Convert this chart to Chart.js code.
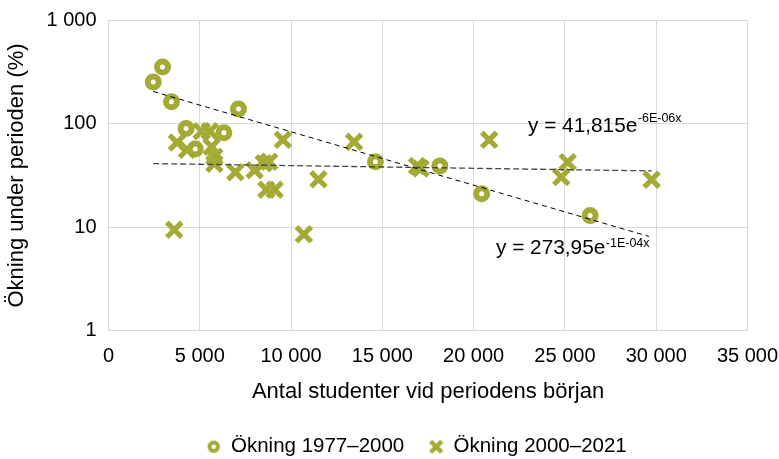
<!DOCTYPE html>
<html><head><meta charset="utf-8">
<script src="https://cdn.jsdelivr.net/npm/chart.js@4/dist/chart.umd.min.js"></script>
<style>html,body{margin:0;padding:0;background:#fff}#wrap{width:779px;height:459px}</style>
</head><body><div id="wrap"><canvas id="c" width="779" height="459"></canvas></div>
<script>
// ---- data ----
const oldLabel = 'Ökning 1977–2000';
const newLabel = 'Ökning 2000–2021';
const oldStudents = [2450, 2960, 3450, 4250, 4750, 6320, 7120, 14620, 18150, 20440, 26380];
const oldGrowth   = [254, 355, 164, 90, 57, 82, 139, 43, 39, 21, 12.9];
const newStudents = [3600, 3750, 4300, 5100, 5550, 5650, 5800, 5800, 6950, 8000, 8500, 8800, 8650, 9100, 9550, 10700, 11500, 13450, 16900, 17100, 20850, 24800, 25150, 29750];
const newGrowth   = [9.4, 66, 56, 85, 85, 60, 48, 41, 34, 35.5, 41.5, 43, 23, 23, 70, 8.5, 29, 67, 39, 37, 70, 30.5, 42.5, 28.8];
const oldTrendX = [2450, 29600];
const oldTrendY = [206, 8.1];
const newTrendX = [2450, 29750];
const newTrendY = [41.2, 35.0];
const oldEquation = ['y = 273,95e', '-1E-04x'];
const newEquation = ['y = 41,815e', '-6E-06x'];
const xTicks = [0, 5000, 10000, 15000, 20000, 25000, 30000, 35000];
const yTicks = [1, 10, 100, 1000];
const xTitle = 'Antal studenter vid periodens början';
const yTitle = 'Ökning under perioden (%)';

// ---- style ----
const OLIVE = '#a4ab35';
const FONT = 'Liberation Sans, Arial, sans-serif';
const fmt = v => String(v).replace(/\B(?=(\d{3})+(?!\d))/g, ' ');
const pts = (xs, ys) => xs.map((x, i) => ({x, y: ys[i]}));

function legendIcon(kind) {
  const c = document.createElement('canvas');
  c.width = 18; c.height = 18;
  const g = c.getContext('2d');
  g.strokeStyle = OLIVE;
  if (kind === 'circle') {
    g.lineWidth = 4;
    g.beginPath(); g.arc(9, 9, 4.2, 0, Math.PI * 2); g.stroke();
  } else {
    g.lineWidth = 4.5;
    g.beginPath();
    g.moveTo(3.5, 3.5); g.lineTo(14.5, 14.5);
    g.moveTo(14.5, 3.5); g.lineTo(3.5, 14.5);
    g.stroke();
  }
  return c;
}

const eqPlugin = {
  id: 'eqLabels',
  afterDatasetsDraw(chart) {
    const ctx = chart.ctx;
    ctx.save();
    ctx.fillStyle = '#000';
    ctx.textBaseline = 'alphabetic';
    ctx.textAlign = 'left';
    const draw = (eq, x, y, rise) => {
      ctx.font = '20.8px ' + FONT;
      ctx.fillText(eq[0], x, y);
      const w = ctx.measureText(eq[0]).width;
      ctx.font = '12.5px ' + FONT;
      ctx.fillText(eq[1], x + w + 0.5, y - rise);
    };
    draw(newEquation, 528, 131.5, 10);
    draw(oldEquation, 496, 254, 7);
    ctx.restore();
  }
};

const legendShift = {
  id: 'legendShift',
  afterLayout(chart) {
    const l = chart.legend;
    l.left += 43; l.right += 43;
    l.top += 8; l.bottom += 8;
  }
};

new Chart(document.getElementById('c'), {
  type: 'scatter',
  data: {
    datasets: [
      { label: 'trendNew', data: pts(newTrendX, newTrendY), showLine: true, pointRadius: 0,
        borderColor: '#444', borderWidth: 1.3, borderDash: [6, 3], order: 0 },
      { label: 'trendOld', data: pts(oldTrendX, oldTrendY), showLine: true, pointRadius: 0,
        borderColor: '#000', borderWidth: 1, borderDash: [5, 4], order: 0 },
      { label: newLabel, data: pts(newStudents, newGrowth), pointStyle: 'crossRot',
        pointRadius: 10.5, pointHoverRadius: 10.5, borderWidth: 5.2, pointBorderWidth: 5.2,
        borderColor: OLIVE, backgroundColor: OLIVE, order: 1 },
      { label: oldLabel, data: pts(oldStudents, oldGrowth), pointStyle: 'circle',
        pointRadius: 5.5, pointHoverRadius: 5.5, borderWidth: 6, pointBorderWidth: 6,
        borderColor: OLIVE, backgroundColor: '#fff', order: 2 }
    ]
  },
  options: {
    responsive: false,
    animation: false,
    devicePixelRatio: 1,
    layout: { padding: { top: 20.7, right: 31.5, left: 0, bottom: 0 } },
    font: { family: FONT },
    plugins: {
      tooltip: { enabled: false },
      legend: {
        position: 'bottom',
        labels: {
          usePointStyle: true,
          boxWidth: 14, boxHeight: 14,
          padding: 25,
          color: '#000',
          font: { family: FONT, size: 20.5 },
          generateLabels: () => [
            { text: oldLabel, pointStyle: legendIcon('circle'), fillStyle: OLIVE, strokeStyle: OLIVE, lineWidth: 0, hidden: false, datasetIndex: 3 },
            { text: newLabel, pointStyle: legendIcon('cross'), fillStyle: OLIVE, strokeStyle: OLIVE, lineWidth: 0, hidden: false, datasetIndex: 2 }
          ]
        }
      }
    },
    scales: {
      x: {
        type: 'linear', min: 0, max: 35000,
        afterBuildTicks: s => { s.ticks = xTicks.map(v => ({ value: v })); },
        afterFit: s => { s.height = 73.3; s.paddingLeft = 0; s.paddingRight = 0; },
        grid: { color: '#d9d9d9', drawTicks: false },
        border: { color: '#d9d9d9' },
        ticks: { padding: 14, maxRotation: 0, autoSkip: false, color: '#000',
                 font: { family: FONT, size: 20 }, callback: v => fmt(v) },
        title: { display: true, text: xTitle, color: '#000', font: { family: FONT, size: 22 },
                 padding: { top: 10, bottom: -2 } }
      },
      y: {
        type: 'logarithmic', min: 1, max: 1000,
        afterBuildTicks: s => { s.ticks = yTicks.map(v => ({ value: v })); },
        afterFit: s => { s.width = 108.5; s.paddingTop = 0; s.paddingBottom = 0; },
        grid: { color: '#d9d9d9', drawTicks: false },
        border: { color: '#d9d9d9' },
        ticks: { padding: 12, color: '#000', font: { family: FONT, size: 20 }, callback: v => fmt(v) },
        title: { display: true, text: yTitle, color: '#000', font: { family: FONT, size: 22 },
                 padding: { top: 4, bottom: 0 } }
      }
    }
  },
  plugins: [eqPlugin, legendShift]
});
</script>
</body></html>
